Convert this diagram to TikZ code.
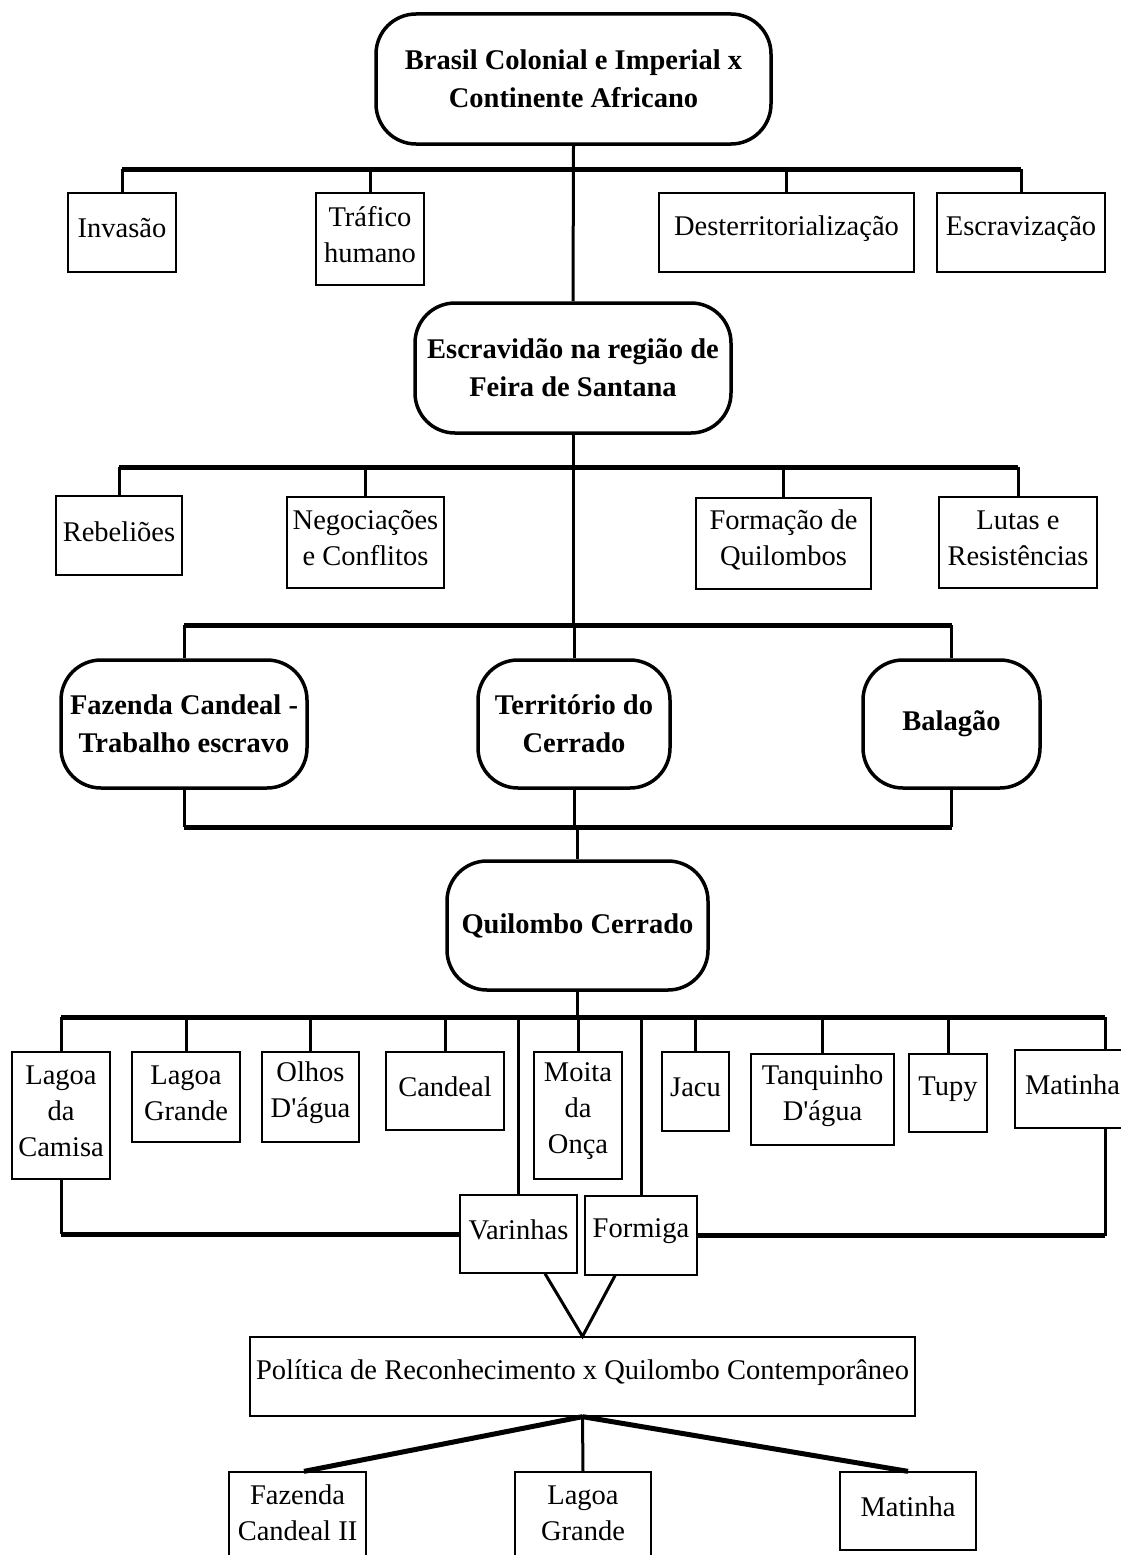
\documentclass[tikz,border=0pt]{standalone}
\usepackage{fontspec}
\setmainfont{Liberation Serif}
\begin{document}
\begin{tikzpicture}[x=1pt,y=-1pt,
  sz/.style 2 args={minimum width=#1pt, minimum height=#2pt},
  rbox/.style={draw, line width=3.5pt, rounded corners=40pt, align=center, inner sep=0pt,
    font=\bfseries\fontsize{28.5}{38}\selectfont},
  rect/.style={draw, line width=1.3pt, inner sep=0pt},
  rtext/.style={align=center, inner sep=0pt, yshift=4pt,
    font=\fontsize{28.5}{36}\selectfont},
  barline/.style={line width=5pt},
  dropline/.style={line width=3pt}]
\useasboundingbox (0,0) rectangle (1121,1555);

% level 1
\node[rbox, sz={395}{130}] (top) at (573.5,79) {Brasil Colonial e Imperial x\\Continente Africano};
\node[rect, sz={108}{79}, label={[rtext]center:Invasão}] (inv) at (122,232.5) {};
\node[rect, sz={108}{92}, label={[rtext]center:{Tráfico\\humano}}] (trf) at (370,239) {};
\node[rect, sz={255}{79}, label={[rtext]center:Desterritorialização}] (des) at (786.5,232.5) {};
\node[rect, sz={168}{79}, label={[rtext]center:Escravização}] (escz) at (1021,232.5) {};

% level 2
\node[rbox, sz={316}{130}] (esc) at (573,368) {Escravidão na região de\\Feira de Santana};
\node[rect, sz={126}{79}, label={[rtext]center:Rebeliões}] (reb) at (119,535.5) {};
\node[rect, sz={157}{91}, label={[rtext]center:{Negociações\\e Conflitos}}] (neg) at (365.5,542.5) {};
\node[rect, sz={175}{91}, label={[rtext]center:{Formação de\\Quilombos}}] (fq) at (783.5,543.5) {};
\node[rect, sz={158}{91}, label={[rtext]center:{Lutas e\\Resistências}}] (lut) at (1018,542.5) {};

% level 3
\node[rbox, sz={246}{128}] (faz) at (184,724) {Fazenda Candeal -\\Trabalho escravo};
\node[rbox, sz={192}{128}] (ter) at (574,724) {Território do\\Cerrado};
\node[rbox, sz={177}{128}] (bal) at (951.5,724) {Balagão};

% level 4
\node[rbox, sz={261}{129}] (qui) at (577.5,925.5) {Quilombo Cerrado};
\node[rect, sz={98}{127}, label={[rtext]center:{Lagoa\\da\\Camisa}}] (lc) at (61,1115.5) {};
\node[rect, sz={108}{90}, label={[rtext]center:{Lagoa\\Grande}}] (lg) at (186,1097) {};
\node[rect, sz={97}{90}, label={[rtext]center:{Olhos\\D\textquotesingle água}}] (oa) at (310.5,1097) {};
\node[rect, sz={118}{78}, label={[rtext]center:Candeal}] (can) at (445,1091) {};
\node[rect, sz={88}{127}, label={[rtext]center:{Moita\\da\\Onça}}] (mo) at (578,1115.5) {};
\node[rect, sz={67}{79}, label={[rtext]center:Jacu}] (jac) at (695.5,1091.5) {};
\node[rect, sz={143}{91}, label={[rtext]center:{Tanquinho\\D\textquotesingle água}}] (tan) at (822.5,1099.5) {};
\node[rect, sz={78}{78}, label={[rtext]center:Tupy}] (tup) at (948,1093) {};
\node[rect, sz={115}{78}, label={[rtext]center:Matinha}] (mat) at (1072.5,1089) {};
\node[rect, sz={117}{78}, label={[rtext]center:Varinhas}] (var) at (518.5,1234) {};
\node[rect, sz={112}{79}, label={[rtext]center:Formiga}] (frm) at (641,1235.5) {};

% level 5
\node[rect, sz={665}{79}, label={[rtext]center:Política de Reconhecimento x Quilombo Contemporâneo}] (pol) at (582.5,1376.5) {};
\node[rect, sz={137}{90}, label={[rtext]center:{Fazenda\\Candeal II}}] (fc2) at (297.5,1517) {};
\node[rect, sz={136}{90}, label={[rtext]center:{Lagoa\\Grande}}] (lg2) at (583,1517) {};
\node[rect, sz={136}{78}, label={[rtext]center:Matinha}] (mt2) at (908,1511) {};

% connectors level 1
\coordinate (b1) at (573.5,169);
\draw[dropline] (top.south) -- (esc.north);
\draw[barline] (inv.north |- b1) -- (escz.north |- b1);
\foreach \n in {inv,trf,des,escz} \draw[dropline] (\n.north |- b1) -- (\n.north);

% connectors level 2
\coordinate (b2) at (573,467);
\coordinate (b3) at (573,625);
\draw[dropline] (esc.south) -- (b3);
\draw[barline] (reb.north |- b2) -- (lut.north |- b2);
\foreach \n in {reb,neg,fq,lut} \draw[dropline] (\n.north |- b2) -- (\n.north);

% connectors level 3
\draw[barline] (faz.north |- b3) -- (bal.north |- b3);
\foreach \n in {faz,ter,bal} \draw[dropline] (\n.north |- b3) -- (\n.north);
\coordinate (b4) at (577.5,827);
\draw[barline] (faz.south |- b4) -- (bal.south |- b4);
\foreach \n in {faz,ter,bal} \draw[dropline] (\n.south) -- (\n.south |- b4);
\draw[dropline] (ter.south |- b4) -- (qui.north |- b4) -- (qui.north);

% connectors level 4
\coordinate (b5) at (577.5,1017);
\coordinate (b5l) at (61,1017);
\coordinate (b5r) at (1105,1017);
\draw[dropline] (qui.south) -- (b5);
\draw[barline] (b5l) -- (b5r);
\foreach \n in {lc,lg,oa,can,mo,jac,tan,tup,var,frm} \draw[dropline] (\n.north |- b5) -- (\n.north);
\draw[dropline] (b5r) -- (b5r |- mat.north);
\draw[dropline] (lc.south) -- (lc.south |- var.west);
\draw[barline] (lc.south |- var.west) -- (var.west);
\draw[dropline] (b5r |- mat.south) -- (b5r |- frm.east);
\draw[barline] (b5r |- frm.east) -- (frm.east);
\draw[dropline] ([xshift=26.5pt]var.south) -- (pol.north) -- ([xshift=-26pt]frm.south);

% connectors level 5
\draw[line width=5pt] (pol.south) -- ([xshift=6.5pt]fc2.north);
\draw[dropline] (pol.south) -- (lg2.north);
\draw[line width=5pt] (pol.south) -- (mt2.north);
\end{tikzpicture}
\end{document}
